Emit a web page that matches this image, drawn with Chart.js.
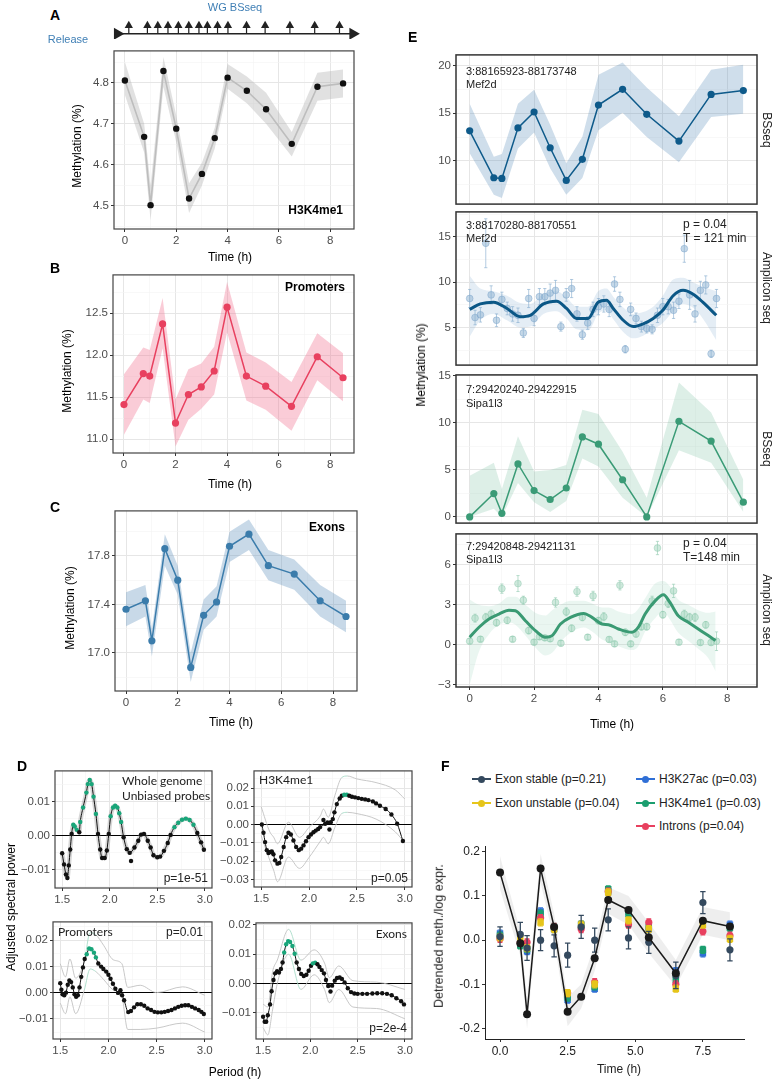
<!DOCTYPE html>
<html>
<head>
<meta charset="utf-8">
<script src="https://cdn.jsdelivr.net/npm/chart.js@4.4.1/dist/chart.umd.min.js"></script>
<style>
  body { margin: 0; background: #fff; width: 775px; height: 1079px; position: relative; overflow: hidden;
         font-family: "Liberation Sans", Arial, sans-serif; }
  canvas { position: absolute; }
  .t { position: absolute; white-space: nowrap; line-height: 1; color: #000; font-size: 12px; }
  .mk { position: absolute; }
</style>
</head>
<body>
<script>
// ---- shared time points (h) ----
const tBS = [0, 0.75, 1, 1.5, 2, 2.5, 3, 3.5, 4, 4.75, 5.5, 6.5, 7.5, 8.5];
const arrowT = [0, 0.75, 1.17, 1.58, 2.0, 2.42, 2.83, 3.17, 3.58, 4.0, 4.75, 5.5, 6.5, 7.5, 8.5];
const timelineEnds = [-0.46, 9.04];

// ---- A: H3K4me1 ----
const aMeth = [4.805, 4.668, 4.502, 4.828, 4.688, 4.518, 4.578, 4.665, 4.812, 4.780, 4.735, 4.651, 4.790, 4.798];
const aUp = [4.85, 4.70, 4.55, 4.862, 4.72, 4.555, 4.605, 4.69, 4.845, 4.815, 4.775, 4.68, 4.824, 4.832];
const aLo = [4.77, 4.63, 4.465, 4.79, 4.655, 4.483, 4.55, 4.64, 4.785, 4.75, 4.70, 4.62, 4.756, 4.764];
// ---- B: Promoters ----
const bMeth = [11.41, 11.78, 11.75, 12.37, 11.19, 11.53, 11.62, 11.81, 12.57, 11.75, 11.63, 11.39, 11.98, 11.73];
const bUp = [11.77, 12.09, 12.06, 12.68, 11.47, 11.83, 11.90, 12.10, 12.87, 12.03, 11.91, 11.68, 12.26, 12.02];
const bLo = [11.05, 11.47, 11.43, 12.08, 10.91, 11.23, 11.36, 11.53, 12.27, 11.46, 11.35, 11.10, 11.70, 11.45];
// ---- C: Exons ----
const cMeth = [17.36, 17.43, 17.10, 17.86, 17.60, 16.88, 17.31, 17.42, 17.88, 17.98, 17.72, 17.65, 17.43, 17.30];
const cUp = [17.50, 17.56, 17.20, 17.98, 17.72, 17.00, 17.44, 17.55, 18.00, 18.10, 17.85, 17.77, 17.56, 17.43];
const cLo = [17.22, 17.30, 16.97, 17.72, 17.48, 16.76, 17.19, 17.30, 17.75, 17.85, 17.60, 17.52, 17.30, 17.17];

// ---- D: adjusted spectral power vs period (h) ----
const wgP = [1.50,1.52,1.54,1.555,1.57,1.585,1.60,1.617,1.633,1.654,1.68,1.69,1.72,1.755,1.77,1.79,1.81,1.83,1.855,1.877,1.90,1.92,1.948,1.97,1.99,2.01,2.035,2.057,2.08,2.10,2.12,2.146,2.18,2.21,2.26,2.30,2.33,2.36,2.40,2.43,2.46,2.50,2.53,2.57,2.61,2.64,2.68,2.72,2.76,2.80,2.84,2.88,2.92,2.96,2.99];
const wgPow = [-0.0052,-0.0085,-0.0115,-0.0125,-0.0088,-0.0041,0.0005,0.0032,0.0027,0.0017,0.0010,0.0040,0.0083,0.0127,0.0152,0.0164,0.0152,0.0115,0.0064,0.0005,-0.0041,-0.0066,-0.0066,-0.0044,0.0005,0.0057,0.0083,0.0088,0.0083,0.0066,0.0040,-0.0005,-0.0040,-0.0051,-0.0035,-0.0015,0.0003,0.0005,-0.0015,-0.0035,-0.0058,-0.0064,-0.0062,-0.0045,-0.0022,0.0002,0.0025,0.0038,0.0047,0.0050,0.0046,0.0032,0.0008,-0.0020,-0.0042];
const wgOutP = [2.224], wgOutPow = [-0.0075];
const wgSig = [[1.61, 1.66], [1.69, 1.86], [2.0, 2.13], [2.67, 2.89]];

const hkP = [1.507,1.524,1.541,1.559,1.576,1.594,1.611,1.628,1.645,1.67,1.69,1.709,1.735,1.761,1.785,1.81,1.837,1.865,1.893,1.918,1.942,1.968,1.994,2.02,2.046,2.07,2.095,2.116,2.168,2.192,2.227,2.248,2.265,2.29,2.32,2.342,2.367,2.394,2.42,2.448,2.48,2.514,2.55,2.586,2.62,2.666,2.70,2.74,2.80,2.86,2.92,2.98];
const hkPow = [0.0,-0.0045,-0.0096,-0.0140,-0.0156,-0.0150,-0.0147,-0.0163,-0.0196,-0.0214,-0.0210,-0.0178,-0.0123,-0.0069,-0.0045,-0.0054,-0.0087,-0.0123,-0.0140,-0.0132,-0.0114,-0.0091,-0.0069,-0.0054,-0.0042,-0.0033,-0.0024,-0.0014,0.0004,0.0012,0.0013,0.0030,0.0067,0.0112,0.0143,0.0158,0.0163,0.0163,0.0158,0.0152,0.0149,0.0145,0.0141,0.0138,0.0134,0.0127,0.0116,0.0103,0.0085,0.0055,0.0005,-0.0090];
const hkOutP = [2.15, 2.213], hkOutPow = [0.0025, -0.0027];
const hkSig = [[2.355, 2.40]];
const hkEnvP = [1.5, 1.59, 1.63, 1.67, 1.785, 1.9, 2.0, 2.12, 2.15, 2.2, 2.27, 2.34, 2.4, 2.5, 2.7, 2.9, 3.0];
const hkUp = [0.0098, -0.004, -0.0069, -0.0105, 0.0013, -0.007, -0.0015, 0.005, 0.0085, 0.004, 0.016, 0.0257, 0.0266, 0.025, 0.023, 0.019, 0.014];
const hkLo = [-0.006, -0.0196, -0.025, -0.0313, -0.0178, -0.024, -0.018, -0.009, -0.007, -0.0105, -0.0015, 0.006, 0.0067, 0.006, 0.003, -0.004, -0.010];

const prP = [1.50,1.512,1.524,1.542,1.56,1.578,1.595,1.613,1.63,1.648,1.665,1.683,1.70,1.718,1.736,1.754,1.775,1.80,1.824,1.85,1.87,1.895,1.924,1.948,1.977,2.0,2.022,2.047,2.072,2.10,2.142,2.163,2.206,2.234,2.266,2.30,2.337,2.372,2.407,2.443,2.478,2.513,2.549,2.584,2.619,2.655,2.69,2.725,2.76,2.796,2.83,2.866,2.90,2.937,2.965,2.99];
const prPow = [0.0036,0.0011,-0.0006,-0.0010,0.0000,0.0030,0.0046,0.0040,0.0020,-0.0006,-0.0016,-0.0010,0.0020,0.0060,0.0096,0.0128,0.0146,0.0168,0.0165,0.0152,0.0134,0.0111,0.0099,0.0090,0.0080,0.0068,0.0053,0.0034,0.0015,-0.0001,-0.0010,-0.0029,-0.0074,-0.0070,-0.0056,-0.0044,-0.0044,-0.0050,-0.0060,-0.0066,-0.0073,-0.0075,-0.0075,-0.0073,-0.0070,-0.0066,-0.0060,-0.0054,-0.0050,-0.0048,-0.0048,-0.0054,-0.0060,-0.0066,-0.0073,-0.0081];
const prOutP = [2.125], prOutPow = [0.0009];
const prSig = [[1.77, 1.87]];
const prEnvP = [1.5, 1.555, 1.6, 1.66, 1.75, 1.81, 1.87, 1.95, 2.05, 2.14, 2.2, 2.33, 2.5, 2.77, 3.0];
const prUp = [0.011, 0.006, 0.0128, 0.0055, 0.012, 0.0228, 0.022, 0.018, 0.0125, 0.011, 0.002, 0.0028, 0.0, 0.0022, -0.001];
const prLo = [-0.004, -0.008, -0.0016, -0.008, 0.001, 0.009, 0.008, 0.005, 0.001, -0.0016, -0.014, -0.014, -0.0135, -0.0116, -0.015];

const exP = [1.50,1.517,1.533,1.55,1.574,1.59,1.61,1.627,1.648,1.668,1.689,1.706,1.723,1.744,1.765,1.786,1.81,1.834,1.855,1.879,1.903,1.93,1.958,1.982,2.007,2.027,2.051,2.075,2.096,2.12,2.144,2.165,2.189,2.23,2.258,2.282,2.31,2.334,2.362,2.396,2.43,2.465,2.50,2.55,2.60,2.656,2.707,2.76,2.81,2.86,2.91,2.96,2.99];
const exPow = [-0.0113,-0.0130,-0.0130,-0.0108,-0.0071,-0.0026,0.0012,0.0035,0.0042,0.0038,0.0050,0.0072,0.0106,0.0134,0.0145,0.0142,0.0128,0.0102,0.0072,0.0050,0.0033,0.0026,0.0030,0.0044,0.0061,0.0069,0.0071,0.0066,0.0057,0.0046,0.0035,0.0012,-0.0008,-0.0007,0.0010,0.0019,0.0021,0.0016,0.0004,-0.0016,-0.0029,-0.0034,-0.0035,-0.0035,-0.0035,-0.0034,-0.0033,-0.0033,-0.0035,-0.0040,-0.0050,-0.0060,-0.0071];
const exOutP = [2.213], exOutPow = [-0.0027];
const exSig = [[1.715, 1.845], [2.02, 2.07]];
const exEnvP = [1.5, 1.55, 1.6, 1.65, 1.77, 1.9, 2.04, 2.15, 2.2, 2.3, 2.45, 2.7, 3.0];
const exUp = [-0.007, -0.008, 0.004, 0.008, 0.0185, 0.008, 0.0115, 0.007, 0.002, 0.006, 0.001, 0.0005, -0.002];
const exLo = [-0.015, -0.0175, -0.009, 0.0, 0.010, -0.002, 0.003, -0.002, -0.0065, -0.002, -0.008, -0.0085, -0.012];

// ---- E: locus examples ----
const e1Meth = [13.15, 8.24, 8.17, 13.46, 15.12, 11.38, 7.96, 10.17, 15.85, 17.5, 14.88, 12.08, 16.96, 17.37];
const e1Up = [15.99, 10.45, 10.73, 15.99, 17.44, 13.8, 9.76, 12.53, 19.03, 20.3, 17.7, 14.67, 19.55, 20.07];
const e1Lo = [10.8, 6.47, 6.12, 11.3, 12.97, 9.24, 6.47, 8.2, 13.2, 15.05, 12.5, 9.86, 14.6, 14.95];

const ampMin = [0,10,20,30,40,50,60,70,80,90,100,110,120,130,140,150,160,170,180,190,200,210,220,230,240,250,260,270,280,290,300,310,320,330,340,350,360,370,380,390,400,410,420,430,440,450,460];
const e2Amp = [8.2,6.1,6.4,14.3,8.6,5.8,8.1,7.1,6.5,6.35,4.4,8.2,6.0,8.4,8.4,8.8,9.1,5.1,8.6,9.3,6.5,4.2,5.5,7.0,7.3,7.6,7.0,9.8,8.1,2.6,7.0,6.0,5.1,4.9,4.8,6.35,7.3,7.3,6.9,7.9,13.7,8.6,6.5,9.1,9.7,2.1,8.2];
const e2Err = [1.0,0.8,0.8,2.7,1.0,0.7,0.8,0.7,0.8,0.8,0.5,1.0,0.8,0.9,0.9,1.0,1.1,0.5,0.7,1.0,0.8,0.5,0.7,0.8,0.9,0.9,0.8,0.8,0.8,0.4,0.7,0.6,0.6,0.5,0.5,0.8,0.9,0.8,0.9,0.8,1.5,1.6,0.9,1.0,1.0,0.4,1.0];
const e2FitT = [0, 0.33, 0.74, 1.16, 1.57, 1.88, 2.29, 2.7, 3.01, 3.32, 3.68, 3.99, 4.25, 4.46, 4.77, 5.08, 5.39, 5.7, 6.0, 6.32, 6.63, 6.93, 7.24, 7.66];
const e2Fit = [7.0, 7.6, 7.8, 7.1, 6.2, 6.35, 7.6, 7.9, 7.1, 6.0, 6.0, 7.8, 8.0, 7.1, 5.8, 5.1, 5.4, 6.0, 6.9, 8.5, 9.1, 8.7, 7.8, 6.35];
const e2FitUp = [10.7, 9.3, 9.0, 8.5, 7.7, 7.6, 8.7, 9.0, 8.3, 7.3, 7.3, 9.0, 9.3, 8.4, 7.2, 6.5, 6.7, 7.3, 8.5, 10.3, 10.5, 10.0, 9.5, 9.0];
const e2FitLo = [4.0, 5.8, 6.5, 5.8, 5.0, 5.1, 6.5, 6.8, 6.0, 4.8, 4.7, 6.5, 6.9, 5.9, 4.5, 3.8, 4.1, 4.8, 5.5, 6.8, 7.6, 7.2, 6.0, 3.6];

const e3Meth = [0.0, 2.48, 0.38, 5.63, 2.8, 1.85, 3.07, 8.5, 7.73, 3.95, 0.0, 10.17, 8.06, 1.57];
const e3Up = [4.37, 5.77, 2.97, 8.57, 4.83, 5.0, 5.52, 11.4, 10.94, 6.92, 2.03, 14.3, 11.1, 3.95];
const e3Lo = [0.0, 0.87, 0.0, 3.6, 1.57, 0.52, 1.68, 6.22, 5.35, 2.03, 0.0, 7.1, 5.77, 0.52];

const e4Amp = [0.27,2.0,0.42,2.06,2.3,1.66,4.22,1.84,0.42,4.6,3.35,1.07,0.2,0.6,0.52,0.45,3.18,0.12,2.48,1.24,4.0,2.06,0.57,3.67,1.81,2.11,0.4,0.07,4.47,0.94,0.07,0.82,1.36,1.36,3.3,7.27,2.26,3.1,4.05,0.2,2.3,2.06,2.06,0.17,1.5,0.17,0.27];
const e4Err = [0.2,0.3,0.2,0.3,0.3,0.25,0.35,0.25,0.2,0.6,0.3,0.25,0.2,0.2,0.2,0.2,0.35,0.2,0.3,0.25,0.35,0.25,0.2,0.35,0.25,0.3,0.2,0.2,0.35,0.25,0.2,0.25,0.25,0.25,0.35,0.5,0.25,0.3,0.5,0.2,0.3,0.3,0.3,0.2,0.25,0.2,0.7];
const e4FitT = [0, 0.29, 0.6, 0.91, 1.22, 1.42, 1.73, 2.04, 2.35, 2.56, 2.82, 3.13, 3.54, 3.8, 4.11, 4.31, 4.62, 5.04, 5.24, 5.45, 5.76, 6.02, 6.22, 6.48, 6.79, 7.1, 7.41, 7.64];
const e4Fit = [0.57, 1.32, 1.94, 2.31, 2.6, 2.56, 1.81, 1.07, 0.57, 0.69, 1.56, 2.06, 2.36, 2.06, 1.56, 1.51, 1.19, 0.94, 1.32, 2.31, 3.3, 3.75, 3.18, 2.18, 1.69, 1.19, 0.69, 0.32];
const e4FitUp = [3.4, 3.0, 2.9, 3.1, 3.6, 3.6, 3.0, 2.4, 2.2, 2.6, 3.0, 3.3, 3.3, 3.1, 2.8, 2.8, 2.5, 2.3, 2.7, 3.5, 4.6, 4.8, 4.4, 3.4, 3.0, 2.6, 2.4, 2.5];
const e4FitLo = [-3.0, -0.5, 0.8, 1.5, 1.7, 1.5, 0.7, -0.2, -0.8, -0.6, 0.2, 0.9, 1.3, 1.0, 0.4, 0.2, -0.1, -0.4, -0.1, 1.0, 2.0, 2.5, 1.9, 0.9, 0.3, -0.3, -1.0, -2.0];

// ---- F: detrended methylation / expression ----
const fMean = [0.153, -0.007, -0.168, 0.162, 0.030, -0.162, -0.128, -0.041, 0.091, 0.068, 0.006, -0.075, 0.044, 0.031];
const fUp = [0.19, 0.02, -0.13, 0.195, 0.06, -0.13, -0.10, -0.01, 0.12, 0.10, 0.04, -0.045, 0.075, 0.063];
const fLo = [0.115, -0.035, -0.20, 0.13, 0.0, -0.195, -0.155, -0.07, 0.06, 0.035, -0.03, -0.105, 0.012, 0.0];
const fStable = [0.008, 0.013, -0.018, 0.0, -0.013, -0.034, 0.030, 0.0, 0.046, 0.005, -0.005, -0.080, 0.085, -0.022];
const fStableErr = [0.022, 0.027, 0.028, 0.024, 0.025, 0.027, 0.026, 0.027, 0.025, 0.025, 0.025, 0.03, 0.025, 0.025];
const fH3K27ac = [0.015, -0.010, -0.025, 0.065, 0.025, -0.135, 0.035, -0.110, 0.110, 0.065, 0.025, -0.070, -0.030, 0.035];
const fH3K4me1 = [0.010, -0.012, -0.020, 0.060, 0.030, -0.130, 0.035, -0.105, 0.115, 0.060, 0.030, -0.090, -0.022, 0.028];
const fIntrons = [0.003, -0.005, -0.005, 0.050, 0.030, -0.120, 0.025, -0.095, 0.110, 0.035, 0.040, -0.100, 0.020, 0.010];
const fUnstable = [0.006, 0.005, -0.018, 0.040, 0.025, -0.120, 0.035, -0.100, 0.108, 0.045, 0.025, -0.110, 0.035, 0.003];
const fGroupErr = 0.008;
const fLegend = ['Exon stable (p=0.21)', 'Exon unstable (p=0.04)', 'H3K27ac (p=0.03)', 'H3K4me1 (p=0.03)', 'Introns (p=0.04)'];

// ---- tick breaks ----
const timeMajor = [0, 2, 4, 6, 8], timeMinor = [1, 3, 5, 7];
const perMajor = [1.5, 2.0, 2.5, 3.0], perMinor = [1.75, 2.25, 2.75];

Chart.defaults.font.family = '"Liberation Sans", Arial, sans-serif';
Chart.defaults.font.size = 11.5;
Chart.defaults.color = '#4d4d4d';

const boxBorder = {
  id: 'boxBorder',
  afterDatasetsDraw(chart, args, opts) {
    if (!opts.color) return;
    const a = chart.chartArea, c = chart.ctx;
    c.save();
    c.strokeStyle = opts.color;
    c.lineWidth = opts.width || 1;
    c.strokeRect(a.left, a.top, a.right - a.left, a.bottom - a.top);
    c.restore();
  }
};
Chart.register(boxBorder);

const pts = (xs, ys) => xs.map((x, i) => ({x: x, y: ys[i]}));
const inSig = (ranges, x) => ranges.some(r => x >= r[0] && x <= r[1]);
const num = v => (v < 0 ? '\u2212' : '') + Math.abs(v);
const fix = d => v => (v < 0 ? '\u2212' : '') + Math.abs(v).toFixed(d);

function errBars(xs, ys, es, cap) {
  const out = [];
  xs.forEach((x, i) => {
    const e = Array.isArray(es) ? es[i] : es;
    const lo = ys[i] - e, hi = ys[i] + e;
    out.push({x: x, y: lo}, {x: x, y: hi}, {x: x, y: null},
             {x: x - cap, y: hi}, {x: x + cap, y: hi}, {x: x, y: null},
             {x: x - cap, y: lo}, {x: x + cap, y: lo}, {x: x, y: null});
  });
  return out;
}

function axis(o) {
  const list = o.major.map(v => ({value: v, minor: false}))
    .concat((o.minor || []).map(v => ({value: v, minor: true})))
    .sort((p, q) => p.value - q.value);
  const show = o.labels !== false;
  const isZero = c => o.zero && c.tick && Math.abs(c.tick.value) < 1e-12;
  return {
    type: 'linear', min: o.min, max: o.max,
    afterBuildTicks: s => { s.ticks = list.map(t => ({value: t.value, minor: t.minor})); },
    afterFit: s => { if (o.horiz) s.height = o.size; else s.width = o.size; },
    border: {display: !!o.line, color: '#222', width: 1},
    grid: {
      drawOnChartArea: o.grid !== false,
      drawTicks: show,
      tickLength: 3,
      color: c => isZero(c) ? '#000' : (c.tick && c.tick.minor ? '#f3f3f3' : '#e6e6e6'),
      lineWidth: c => isZero(c) ? 1 : (c.tick && c.tick.minor ? 0.6 : 1),
      tickColor: c => (c.tick && !c.tick.minor) ? '#333' : 'rgba(0,0,0,0)',
      tickWidth: 1
    },
    ticks: {
      display: show, autoSkip: false, maxRotation: 0, minRotation: 0, padding: 2,
      color: o.color || '#4d4d4d', font: {size: o.fs || 11.5},
      callback: (v, i, t) => (t[i] && t[i].minor) ? '' : o.fmt(v)
    }
  };
}

function plot(box, yW, xH, x, y, datasets, border, bw) {
  const P = 8;
  const cv = document.createElement('canvas');
  cv.width = box[2] - box[0] + yW + 2 * P;
  cv.height = box[3] - box[1] + xH + 2 * P;
  cv.style.left = (box[0] - yW - P) + 'px';
  cv.style.top = (box[1] - P) + 'px';
  document.body.appendChild(cv);
  x.horiz = true; x.size = xH; y.size = yW;
  return new Chart(cv, {
    type: 'line',
    data: {datasets: datasets},
    options: {
      responsive: false, animation: false, events: [],
      layout: {padding: P},
      scales: {x: axis(x), y: axis(y)},
      plugins: {legend: {display: false}, tooltip: {enabled: false},
                boxBorder: {color: border, width: bw || 1.2}}
    }
  });
}

function ribbon(xs, lo, hi, color, order, smooth) {
  const base = {borderWidth: 0, borderColor: 'rgba(0,0,0,0)', pointRadius: 0, order: order};
  if (smooth) base.cubicInterpolationMode = 'monotone';
  return [Object.assign({data: pts(xs, lo), fill: false}, base),
          Object.assign({data: pts(xs, hi), fill: '-1', backgroundColor: color}, base)];
}

function series(xs, ys, lineColor, pointColor, r, lw, order) {
  return {data: pts(xs, ys), borderColor: lineColor, borderWidth: lw, pointRadius: r,
          pointBackgroundColor: pointColor, pointBorderColor: pointColor, pointBorderWidth: 0,
          fill: false, order: order};
}

function txt(s, x, y, o) {
  o = o || {};
  const d = document.createElement('div');
  d.className = 't';
  d.textContent = s;
  const ax = o.a === 'l' ? '0' : (o.a === 'r' ? '-100%' : '-50%');
  d.style.left = x + 'px';
  d.style.top = y + 'px';
  d.style.transform = 'translate(' + ax + ',-50%)' + (o.rot ? ' rotate(' + o.rot + 'deg)' : '');
  if (o.fs) d.style.fontSize = o.fs + 'px';
  if (o.b) d.style.fontWeight = 'bold';
  if (o.c) d.style.color = o.c;
  if (o.f) d.style.fontFamily = o.f;
  document.body.appendChild(d);
}

// ---------- timeline above A ----------
(function () {
  const cv = document.createElement('canvas');
  cv.width = 272; cv.height = 34;
  cv.style.left = '100px'; cv.style.top = '12px';
  document.body.appendChild(cv);
  const stems = [];
  arrowT.forEach(t => stems.push({x: t, y: 0}, {x: t, y: 0.8}, {x: t, y: null}));
  new Chart(cv, {
    type: 'line',
    data: {datasets: [
      {data: arrowT.map(t => ({x: t, y: 0.93})), showLine: false, pointStyle: 'triangle', pointRadius: 4.8,
       pointBackgroundColor: '#222', pointBorderWidth: 0},
      {data: timelineEnds.map(t => ({x: t, y: 0})), showLine: false, pointStyle: 'triangle', pointRotation: 90,
       pointRadius: 7, pointBackgroundColor: '#222', pointBorderWidth: 0},
      {data: stems, borderColor: '#222', borderWidth: 1.2, pointRadius: 0, spanGaps: false},
      {data: timelineEnds.map(t => ({x: t, y: 0})), borderColor: '#222', borderWidth: 1.6, pointRadius: 0}
    ]},
    options: {responsive: false, animation: false, events: [], layout: {padding: 0},
      scales: {x: {type: 'linear', display: false, min: -0.88, max: 9.53},
               y: {type: 'linear', display: false, min: -0.6, max: 1.667}},
      plugins: {legend: {display: false}, tooltip: {enabled: false}}}
  });
})();

const tx = () => ({min: -0.425, max: 8.925, major: timeMajor, minor: timeMinor, fmt: num});

// ---------- A ----------
plot([114, 50, 354, 229], 35, 20, tx(),
  {min: 4.444, max: 4.877, major: [4.5, 4.6, 4.7, 4.8], minor: [4.45, 4.55, 4.65, 4.75, 4.85], fmt: fix(1)},
  ribbon(tBS, aLo, aUp, 'rgba(175,175,175,0.38)', 3)
    .concat([series(tBS, aMeth, '#bdbdbd', '#111', 3.2, 1.6, 1)]), '#444');

// ---------- B ----------
plot([113, 274, 354, 453], 35, 20, tx(),
  {min: 10.834, max: 12.954, major: [11.0, 11.5, 12.0, 12.5], minor: [11.25, 11.75, 12.25, 12.75], fmt: fix(1)},
  ribbon(tBS, bLo, bUp, 'rgba(242,120,150,0.38)', 3)
    .concat([series(tBS, bMeth, '#e8405f', '#e8405f', 3.6, 1.5, 1)]), '#444');

// ---------- C ----------
plot([115, 510, 357, 691], 35, 20, tx(),
  {min: 16.685, max: 18.172, major: [17.0, 17.4, 17.8], minor: [16.8, 17.2, 17.6, 18.0], fmt: fix(1)},
  ribbon(tBS, cLo, cUp, 'rgba(110,155,195,0.38)', 3)
    .concat([series(tBS, cMeth, '#3b7cab', '#3b7cab', 3.6, 1.5, 1)]), '#444');

// ---------- D ----------
const GREEN = '#19a67a';
function powerSet(P, pow, sig, outP, outPow, env) {
  const ds = [];
  ds.push({data: pts(P, pow), borderColor: '#111', borderWidth: 1, cubicInterpolationMode: 'monotone',
           pointRadius: 2.2, pointBorderWidth: 0,
           pointBackgroundColor: c => inSig(sig, P[c.dataIndex]) ? GREEN : '#111', order: 1});
  ds.push({data: pts(outP, outPow), showLine: false, pointRadius: 2.2, pointBorderWidth: 0,
           pointBackgroundColor: '#111', order: 1});
  if (env) {
    const seg = c => inSig(sig, (env[0][c.p0DataIndex] + env[0][c.p1DataIndex]) / 2) ? '#a9dcc8' : '#c2c2c2';
    [env[1], env[2]].forEach(v => ds.push({data: pts(env[0], v), borderColor: '#c2c2c2', borderWidth: 0.9,
      cubicInterpolationMode: 'monotone', pointRadius: 0, segment: {borderColor: seg}, order: 4}));
  } else {
    ds.push({data: pts(P, pow), borderColor: 'rgba(140,140,140,0.35)', borderWidth: 4.5,
             cubicInterpolationMode: 'monotone', pointRadius: 0, order: 4});
  }
  return ds;
}
const px = () => ({min: 1.425, max: 3.075, major: perMajor, minor: perMinor, fmt: v => v.toFixed(1)});

plot([55, 770, 212, 888], 36, 20, px(),
  {min: -0.01547, max: 0.0191, major: [-0.01, 0, 0.01], minor: [-0.015, -0.005, 0.005, 0.015], fmt: fix(2), zero: true},
  powerSet(wgP, wgPow, wgSig, wgOutP, wgOutPow, null), '#444');
plot([254, 770, 412, 887], 36, 20, px(),
  {min: -0.0342, max: 0.0294, major: [-0.03, -0.02, -0.01, 0, 0.01, 0.02], minor: [-0.025, -0.015, -0.005, 0.005, 0.015, 0.025], fmt: fix(2), zero: true},
  powerSet(hkP, hkPow, hkSig, hkOutP, hkOutPow, [hkEnvP, hkUp, hkLo]), '#444');
plot([53, 921, 212, 1039], 36, 20, px(),
  {min: -0.01763, max: 0.0269, major: [-0.01, 0, 0.01, 0.02], minor: [-0.015, -0.005, 0.005, 0.015, 0.025], fmt: fix(2), zero: true},
  powerSet(prP, prPow, prSig, prOutP, prOutPow, [prEnvP, prUp, prLo]), '#444');
plot([256, 922, 412, 1039], 36, 20, px(),
  {min: -0.0189, max: 0.0207, major: [-0.01, 0, 0.01, 0.02], minor: [-0.015, -0.005, 0.005, 0.015], fmt: fix(2), zero: true},
  powerSet(exP, exPow, exSig, exOutP, exOutPow, [exEnvP, exUp, exLo]), '#444');

// ---------- E ----------
const ex = show => Object.assign(tx(), {labels: show});
const ampH = ampMin.map(m => m / 60);
plot([456, 54, 757, 205], 30, 0, ex(false),
  {min: 5.48, max: 21.1, major: [10, 15, 20], minor: [7.5, 12.5, 17.5], fmt: num},
  ribbon(tBS, e1Lo, e1Up, 'rgba(95,145,188,0.3)', 3)
    .concat([series(tBS, e1Meth, '#0e5a8a', '#0e5a8a', 3.6, 1.5, 1)]), '#333', 1.5);
plot([456, 211, 757, 366], 30, 0, ex(false),
  {min: 0.85, max: 17.76, major: [5, 10, 15], minor: [2.5, 7.5, 12.5, 17.5], fmt: num},
  ribbon(e2FitT, e2FitLo, e2FitUp, 'rgba(120,165,205,0.2)', 5, true).concat([
    {data: errBars(ampH, e2Amp, e2Err, 0.05), borderColor: 'rgba(130,170,205,0.6)', borderWidth: 1,
     pointRadius: 0, spanGaps: false, order: 4},
    {data: pts(ampH, e2Amp), showLine: false, pointRadius: 3.4, pointBackgroundColor: 'rgba(140,178,210,0.5)',
     pointBorderColor: 'rgba(120,160,200,0.55)', pointBorderWidth: 0.8, order: 3},
    {data: pts(e2FitT, e2Fit), borderColor: '#0b5786', borderWidth: 3, cubicInterpolationMode: 'monotone',
     pointRadius: 0, order: 1}
  ]), '#333', 1.5);
plot([456, 374, 757, 524], 30, 0, ex(false),
  {min: -0.66, max: 15.1, major: [0, 5, 10, 15], minor: [2.5, 7.5, 12.5], fmt: num},
  ribbon(tBS, e3Lo, e3Up, 'rgba(125,192,162,0.26)', 3)
    .concat([series(tBS, e3Meth, '#3a9b76', '#3a9b76', 3.6, 1.5, 1)]), '#333', 1.5);
plot([456, 533, 757, 687], 30, 20, ex(true),
  {min: -3.17, max: 8.33, major: [-3, 0, 3, 6], minor: [-1.5, 1.5, 4.5, 7.5], fmt: num},
  ribbon(e4FitT, e4FitLo, e4FitUp, 'rgba(130,200,170,0.17)', 5, true).concat([
    {data: errBars(ampH, e4Amp, e4Err, 0.05), borderColor: 'rgba(150,205,180,0.65)', borderWidth: 1,
     pointRadius: 0, spanGaps: false, order: 4},
    {data: pts(ampH, e4Amp), showLine: false, pointRadius: 3.4, pointBackgroundColor: 'rgba(160,212,188,0.5)',
     pointBorderColor: 'rgba(140,200,172,0.55)', pointBorderWidth: 0.8, order: 3},
    {data: pts(e4FitT, e4Fit), borderColor: '#3a9a73', borderWidth: 3, cubicInterpolationMode: 'monotone',
     pointRadius: 0, order: 1}
  ]), '#333', 1.5);

// ---------- F ----------
const fColors = ['#34495e', '#e6c51a', '#2f6fd6', '#1b9e6f', '#e8405f'];
const groupSets = [[fH3K27ac, fColors[2], 'rect'], [fH3K4me1, fColors[3], 'rect'],
                   [fIntrons, fColors[4], 'circle'], [fUnstable, fColors[1], 'rect']];
const fData = ribbon(tBS, fLo, fUp, 'rgba(200,200,200,0.3)', 20);
groupSets.forEach((g, k) => {
  fData.push({data: errBars(tBS, g[0], fGroupErr, 0.09), borderColor: g[1], borderWidth: 1.2,
              pointRadius: 0, spanGaps: false, order: 12 - k * 2});
  fData.push({data: pts(tBS, g[0]), showLine: false, pointStyle: g[2], pointRadius: g[2] === 'rect' ? 4.6 : 3.6,
              pointBackgroundColor: g[1], pointBorderWidth: 0, order: 11 - k * 2});
});
fData.push({data: errBars(tBS, fStable, fStableErr, 0.1), borderColor: fColors[0], borderWidth: 1.3,
            pointRadius: 0, spanGaps: false, order: 3});
fData.push({data: pts(tBS, fStable), showLine: false, pointRadius: 3.6, pointBackgroundColor: fColors[0],
            pointBorderWidth: 0, order: 2});
fData.push(series(tBS, fMean, '#1a1a1a', '#1a1a1a', 4, 1.5, 0));
plot([485, 845, 744, 1039], 40, 20,
  {min: -0.555, max: 9.02, major: [0, 2.5, 5, 7.5], minor: [], fmt: v => v.toFixed(1), grid: false, line: true, color: '#222', fs: 12},
  {min: -0.224, max: 0.2128, major: [-0.2, -0.1, 0, 0.1, 0.2], minor: [], fmt: v => v.toFixed(1), grid: false, line: true, color: '#222', fs: 12},
  fData, null);

// F legend (marker + text)
function legendItem(x, y, color, label) {
  const ln = document.createElement('div');
  ln.className = 'mk';
  ln.style.cssText = 'left:' + x + 'px;top:' + (y - 0.75) + 'px;width:19px;height:1.5px;background:' + color;
  const dot = document.createElement('div');
  dot.className = 'mk';
  dot.style.cssText = 'left:' + (x + 6) + 'px;top:' + (y - 3.5) + 'px;width:7px;height:7px;border-radius:50%;background:' + color;
  document.body.appendChild(ln);
  document.body.appendChild(dot);
  txt(label, x + 23, y, {a: 'l', fs: 12, c: '#222'});
}
legendItem(472, 779, fColors[0], fLegend[0]);
legendItem(472, 803, fColors[1], fLegend[1]);
legendItem(636, 779, fColors[2], fLegend[2]);
legendItem(636, 803, fColors[3], fLegend[3]);
legendItem(636, 826, fColors[4], fLegend[4]);

// ---------- texts ----------
const BLUE = '#3f7fb5';
const HUM = 'Lato, "Open Sans", sans-serif';
txt('A', 50, 15, {a: 'l', b: true, fs: 14});
txt('WG BSseq', 235, 7, {fs: 11, c: BLUE});
txt('Release', 68, 39, {fs: 11, c: BLUE});
txt('Methylation (%)', 77, 146, {rot: -90});
txt('Time (h)', 230, 257);
txt('H3K4me1', 343, 210, {a: 'r', b: true});

txt('B', 50, 268, {a: 'l', b: true, fs: 14});
txt('Methylation (%)', 67, 371, {rot: -90});
txt('Time (h)', 230, 484);
txt('Promoters', 345, 287, {a: 'r', b: true});

txt('C', 50, 507, {a: 'l', b: true, fs: 14});
txt('Methylation (%)', 70, 608, {rot: -90});
txt('Time (h)', 231, 722);
txt('Exons', 345, 527, {a: 'r', b: true});

txt('D', 17, 766, {a: 'l', b: true, fs: 14});
txt('Adjusted spectral power', 11, 907, {rot: -90});
txt('Period (h)', 235, 1072);
txt('Whole genome', 122, 781, {a: 'l', f: HUM, fs: 12, c: '#222'});
txt('Unbiased probes', 122, 796, {a: 'l', f: HUM, fs: 12, c: '#222'});
txt('p=1e-51', 208, 878, {a: 'r', c: '#222'});
txt('H3K4me1', 259, 780, {a: 'l', f: HUM, fs: 12, c: '#222'});
txt('p=0.05', 408, 878, {a: 'r', c: '#222'});
txt('Promoters', 58, 932, {a: 'l', f: HUM, fs: 12, c: '#222'});
txt('p=0.01', 203, 932, {a: 'r', c: '#222'});
txt('Exons', 407, 934, {a: 'r', f: HUM, fs: 12, c: '#222'});
txt('p=2e-4', 407, 1028, {a: 'r', c: '#222'});

txt('E', 408, 37, {a: 'l', b: true, fs: 14});
txt('Methylation (%)', 421, 365, {rot: -90});
txt('Time (h)', 612, 724);
txt('3:88165923-88173748', 466, 71, {a: 'l', fs: 11, c: '#222'});
txt('Mef2d', 466, 84, {a: 'l', fs: 11, c: '#222'});
txt('3:88170280-88170551', 466, 225, {a: 'l', fs: 11, c: '#222'});
txt('Mef2d', 466, 238, {a: 'l', fs: 11, c: '#222'});
txt('p = 0.04', 683, 224, {a: 'l', c: '#222'});
txt('T = 121 min', 683, 238, {a: 'l', c: '#222'});
txt('7:29420240-29422915', 466, 389, {a: 'l', fs: 11, c: '#222'});
txt('Sipa1l3', 466, 403, {a: 'l', fs: 11, c: '#222'});
txt('7:29420848-29421131', 466, 546, {a: 'l', fs: 11, c: '#222'});
txt('Sipa1l3', 466, 559, {a: 'l', fs: 11, c: '#222'});
txt('p = 0.04', 683, 543, {a: 'l', c: '#222'});
txt('T=148 min', 683, 557, {a: 'l', c: '#222'});
txt('BSseq', 767, 130, {rot: 90, c: '#222'});
txt('Amplicon seq', 767, 288, {rot: 90, c: '#222'});
txt('BSseq', 767, 449, {rot: 90, c: '#222'});
txt('Amplicon seq', 767, 610, {rot: 90, c: '#222'});

txt('F', 441, 766, {a: 'l', b: true, fs: 14});
txt('Detrended meth./log expr.', 439, 936, {rot: -90, fs: 12.5, c: '#222'});
txt('Time (h)', 619, 1069, {c: '#222'});
</script>
</body>
</html>
